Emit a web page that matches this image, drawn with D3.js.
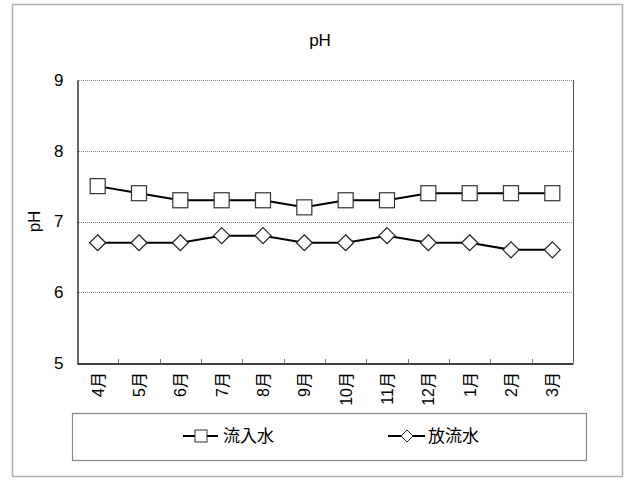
<!DOCTYPE html>
<html><head><meta charset="utf-8">
<script src="https://cdn.jsdelivr.net/npm/d3@7"></script>
<style>body{margin:0;background:#fff;}svg{display:block;font-family:"Liberation Sans",Arial,sans-serif;}</style>
</head><body>
<svg id="c" width="628" height="480"></svg>
<script>
const categories = ["4月","5月","6月","7月","8月","9月","10月","11月","12月","1月","2月","3月"];
const inflow = [7.5,7.4,7.3,7.3,7.3,7.2,7.3,7.3,7.4,7.4,7.4,7.4];
const outflow = [6.7,6.7,6.7,6.8,6.8,6.7,6.7,6.8,6.7,6.7,6.6,6.6];
const yTicks = [5,6,7,8,9];
const seriesNames = ["流入水","放流水"];
const title = "pH";
const yTitle = "pH";

const svg = d3.select("#c");
svg.append("rect").attr("x",12.5).attr("y",4.5).attr("width",610).attr("height",472)
  .attr("fill","#fff").attr("stroke","#b0b0b0").attr("stroke-width",1.5);

const L=77, R=573, T=80, B=363;
const x = d3.scaleBand().domain(categories).range([L,R]);
const y = d3.scaleLinear().domain([5,9]).range([B,T]);

svg.append("text").attr("x",320).attr("y",46).attr("text-anchor","middle")
  .attr("font-size",17).text(title);

// gridlines
svg.append("g").selectAll("line").data(yTicks.filter(d=>d>5)).join("line")
  .attr("x1",L).attr("x2",R).attr("y1",d=>Math.round(y(d))+0.5).attr("y2",d=>Math.round(y(d))+0.5)
  .attr("stroke","#888").attr("stroke-width",1).attr("stroke-dasharray","1,1");
// right border
svg.append("line").attr("x1",R+0.5).attr("x2",R+0.5).attr("y1",T).attr("y2",B).attr("stroke","#555");

// y axis
const ya = svg.append("g").attr("transform",`translate(${L+0.5},0)`)
  .call(d3.axisLeft(y).tickValues(yTicks).tickSize(0).tickPadding(14).tickFormat(d3.format("d")));
ya.select(".domain").attr("stroke","#000").attr("stroke-width",1.2);
ya.selectAll("text").attr("font-size",17).attr("font-family","Liberation Sans, Arial, sans-serif").attr("fill","#000");

// x axis
const xa = svg.append("g").attr("transform",`translate(0,${B+0.5})`)
  .call(d3.axisBottom(x).tickSize(0).tickFormat(""));
xa.select(".domain").attr("stroke","#000").attr("stroke-width",1.5);
// boundary ticks (inward)
svg.append("g").selectAll("line").data(categories.slice(1)).join("line")
  .attr("x1",d=>Math.round(x(d))+0.5).attr("x2",d=>Math.round(x(d))+0.5)
  .attr("y1",B-4).attr("y2",B).attr("stroke","#777");
svg.append("g").selectAll("text").data(categories).join("text")
  .attr("transform",d=>`translate(${x(d)+x.bandwidth()/2+6},${B+9}) rotate(-90)`)
  .attr("text-anchor","end").attr("font-size",16).attr("font-family","Liberation Sans, Noto Sans CJK JP").text(d=>d);

// y title
svg.append("text").attr("transform",`translate(40,${(T+B)/2}) rotate(-90)`)
  .attr("text-anchor","middle").attr("font-size",17).text(yTitle);

const cx = d => x(d)+x.bandwidth()/2;
const line = d3.line().x((d,i)=>cx(categories[i])).y(d=>y(d));
[inflow,outflow].forEach(s=>{
  svg.append("path").datum(s).attr("d",line).attr("fill","none").attr("stroke","#000").attr("stroke-width",2);
});
const sq = 15;
svg.append("g").selectAll("rect").data(inflow).join("rect")
  .attr("x",(d,i)=>cx(categories[i])-sq/2).attr("y",d=>y(d)-sq/2)
  .attr("width",sq).attr("height",sq).attr("fill","#fff").attr("stroke","#333").attr("stroke-width",1.2);
const dm = 8;
svg.append("g").selectAll("path").data(outflow).join("path")
  .attr("d",(d,i)=>{const X=cx(categories[i]),Y=y(d);return `M${X},${Y-dm}L${X+dm},${Y}L${X},${Y+dm}L${X-dm},${Y}Z`;})
  .attr("fill","#fff").attr("stroke","#222").attr("stroke-width",1.2);

// legend
svg.append("rect").attr("x",72.5).attr("y",413.5).attr("width",514).attr("height",47)
  .attr("fill","#fff").attr("stroke","#888").attr("stroke-width",1.2);
const ly = 436;
const lg1 = svg.append("g");
lg1.append("line").attr("x1",183).attr("x2",218).attr("y1",ly).attr("y2",ly).attr("stroke","#000").attr("stroke-width",2);
lg1.append("rect").attr("x",201-6).attr("y",ly-6).attr("width",12).attr("height",12).attr("fill","#fff").attr("stroke","#333");
lg1.append("text").attr("x",223).attr("y",ly+6).attr("font-size",17).attr("font-family","Noto Sans CJK JP").text(seriesNames[0]);
const lg2 = svg.append("g");
lg2.append("line").attr("x1",388).attr("x2",425).attr("y1",ly).attr("y2",ly).attr("stroke","#000").attr("stroke-width",2);
lg2.append("path").attr("d",`M407,${ly-6}L413,${ly}L407,${ly+6}L401,${ly}Z`).attr("fill","#fff").attr("stroke","#222");
lg2.append("text").attr("x",428).attr("y",ly+6).attr("font-size",17).attr("font-family","Noto Sans CJK JP").text(seriesNames[1]);
</script>
</body></html>
